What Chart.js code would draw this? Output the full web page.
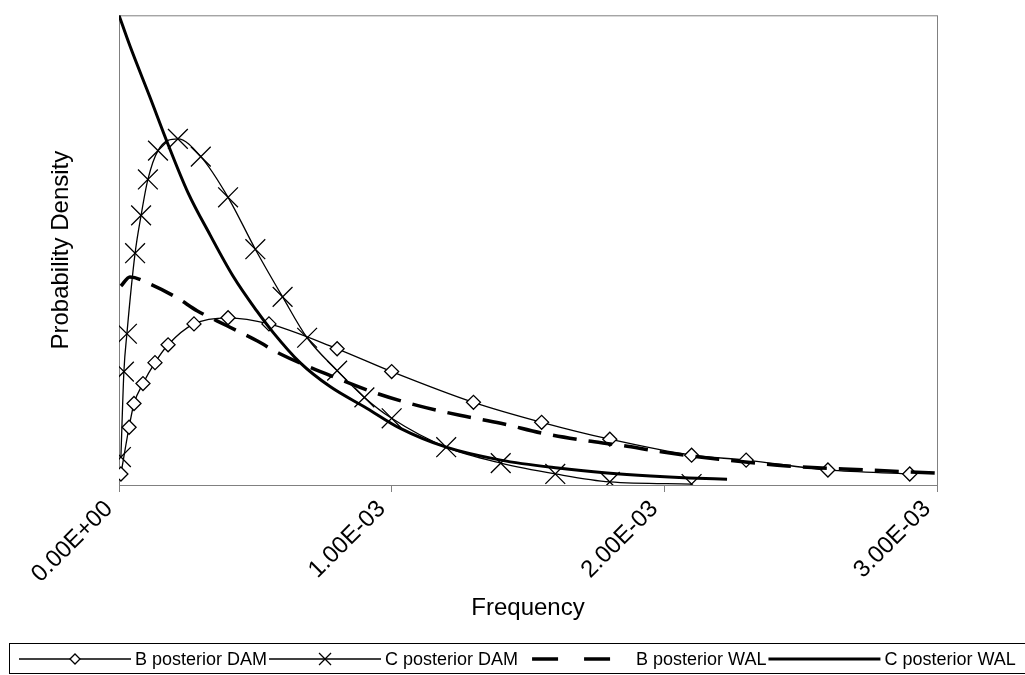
<!DOCTYPE html>
<html>
<head>
<meta charset="utf-8">
<title>Probability Density</title>
<script src="https://cdn.jsdelivr.net/npm/chart.js@4.4.1/dist/chart.umd.min.js"></script>
<style>
  html, body { margin: 0; padding: 0; background: #fff; }
  #wrap { width: 1025px; height: 675px; }
</style>
</head>
<body>
<div id="wrap"><canvas id="densityChart" width="1025" height="675"></canvas></div>
<script>
// B posterior DAM
const bDamFreq = [0.000007, 0.000037, 0.000055, 0.000088, 0.000132, 0.00018, 0.000275, 0.0004, 0.00055,
  0.0008, 0.001, 0.0013, 0.00155, 0.0018, 0.0021, 0.0023, 0.0026, 0.0029];
const bDamDensity = [47, 246, 347, 432, 521, 597, 686, 712, 686, 580, 483, 352, 267, 195, 127, 106, 64, 47];

// C posterior DAM
const cDamFreq = [0.000007, 0.000018, 0.000029, 0.000059, 0.000081, 0.000106, 0.000143, 0.000216, 0.0003,
  0.0004, 0.0005, 0.0006, 0.00069, 0.0008, 0.0009, 0.001, 0.0012, 0.0014, 0.0016, 0.0018, 0.0021];
const cDamDensity = [119, 483, 644, 987, 1148, 1301, 1424, 1474, 1398, 1225, 1004, 801, 627, 487, 373, 284,
  161, 93, 47, 13, 4];

// B posterior WAL
const bWalFreq = [0.000007, 0.00004, 0.000114, 0.000213, 0.000286, 0.000359, 0.000433, 0.000506, 0.00059,
  0.000821, 0.000946, 0.001093, 0.00125, 0.0014, 0.001555, 0.0017, 0.00184, 0.001995, 0.0022, 0.00245,
  0.00274, 0.003, 0.0032];
const bWalDensity = [847, 886, 856, 797, 742, 699, 657, 614, 559, 445, 390, 339, 297, 263, 220, 191, 169,
  140, 110, 81, 64, 51, 42];

// C posterior WAL
const cWalFreq = [0, 0.00004, 0.000114, 0.00018, 0.000253, 0.000334, 0.000418, 0.000506, 0.000565, 0.000664,
  0.000774, 0.00091, 0.00103, 0.0012, 0.0014, 0.00161, 0.00179, 0.00195, 0.00209, 0.00223];
const cWalDensity = [2000, 1870, 1650, 1450, 1245, 1065, 890, 740, 650, 521, 419, 326, 242, 161, 106, 72, 51,
  38, 30, 25];

const seriesLabels = ['B posterior DAM', 'C posterior DAM', 'B posterior WAL', 'C posterior WAL'];
const xTicks = [0, 0.001, 0.002, 0.003];

const FONT = '"Liberation Sans", Arial, sans-serif';
Chart.defaults.font.family = FONT;
Chart.defaults.color = '#000';

function toPoints(xs, ys) {
  return xs.map((x, i) => ({ x: x, y: ys[i] }));
}

// 1.00E-03 style labels
function sciLabel(v) {
  if (Math.abs(v) < 1e-12) return '0.00E+00';
  let exp = Math.floor(Math.log10(Math.abs(v)));
  let mant = v / Math.pow(10, exp);
  if (Math.abs(mant) >= 9.995) { mant /= 10; exp += 1; }
  const sign = exp < 0 ? '-' : '+';
  return mant.toFixed(2) + 'E' + sign + String(Math.abs(exp)).padStart(2, '0');
}

function drawDiamond(ctx, x, y, r) {
  ctx.beginPath();
  ctx.moveTo(x - r, y);
  ctx.lineTo(x, y - r);
  ctx.lineTo(x + r, y);
  ctx.lineTo(x, y + r);
  ctx.closePath();
  ctx.fillStyle = '#fff';
  ctx.fill();
  ctx.stroke();
}

function drawCross(ctx, x, y, r) {
  ctx.beginPath();
  ctx.moveTo(x - r, y - r);
  ctx.lineTo(x + r, y + r);
  ctx.moveTo(x - r, y + r);
  ctx.lineTo(x + r, y - r);
  ctx.stroke();
}

// grey frame around the plot area
const plotFrame = {
  id: 'plotFrame',
  beforeDatasetsDraw(chart) {
    const { ctx, chartArea: a } = chart;
    ctx.save();
    ctx.strokeStyle = '#808080';
    ctx.lineWidth = 1;
    ctx.strokeRect(a.left + 0.5, a.top + 0.5, a.right - a.left, a.bottom - a.top);
    ctx.restore();
  }
};

// legend row in a box along the bottom
const legendRow = {
  id: 'legendRow',
  afterDraw(chart) {
    const ctx = chart.ctx;
    const y = 659;
    const sampleLen = 112;
    let x = 19;
    ctx.save();
    ctx.strokeStyle = '#000';
    ctx.lineWidth = 1;
    ctx.strokeRect(9.5, 643.5, 1030, 30);
    ctx.font = '18px ' + FONT;
    ctx.textBaseline = 'middle';
    chart.data.datasets.forEach((ds, i) => {
      ctx.strokeStyle = '#000';
      ctx.lineWidth = ds.borderWidth;
      ctx.beginPath();
      if (ds.borderDash) {
        // two short dashes
        ctx.moveTo(x + 12, y); ctx.lineTo(x + 38, y);
        ctx.moveTo(x + 64, y); ctx.lineTo(x + 90, y);
      } else {
        ctx.moveTo(x, y); ctx.lineTo(x + sampleLen, y);
      }
      ctx.stroke();
      ctx.lineWidth = 1.3;
      if (ds.pointStyle === 'rectRot') drawDiamond(ctx, x + sampleLen / 2, y, 5);
      if (ds.pointStyle === 'crossRot') drawCross(ctx, x + sampleLen / 2, y, 6);
      ctx.fillStyle = '#000';
      const label = seriesLabels[i];
      ctx.fillText(label, x + sampleLen + 4, y + 1);
      x += sampleLen + 4 + ctx.measureText(label).width + 2;
    });
    ctx.restore();
  }
};

const ctx = document.getElementById('densityChart').getContext('2d');
const densityChart = new Chart(ctx, {
  type: 'line',
  data: {
    datasets: [
      {
        label: seriesLabels[0],
        data: toPoints(bDamFreq, bDamDensity),
        borderColor: '#000',
        borderWidth: 1.3,
        pointStyle: 'rectRot',
        pointRadius: 7,
        pointBorderWidth: 1.3,
        pointBackgroundColor: '#fff',
        pointBorderColor: '#000',
        cubicInterpolationMode: 'monotone',
        order: 4
      },
      {
        label: seriesLabels[1],
        data: toPoints(cDamFreq, cDamDensity),
        borderColor: '#000',
        borderWidth: 1.3,
        pointStyle: 'crossRot',
        pointRadius: 14,
        pointBorderWidth: 1.3,
        pointBorderColor: '#000',
        cubicInterpolationMode: 'monotone',
        order: 3
      },
      {
        label: seriesLabels[2],
        data: toPoints(bWalFreq, bWalDensity),
        borderColor: '#000',
        borderWidth: 3.5,
        borderDash: [24, 12],
        pointRadius: 0,
        cubicInterpolationMode: 'monotone',
        order: 2
      },
      {
        label: seriesLabels[3],
        data: toPoints(cWalFreq, cWalDensity),
        borderColor: '#000',
        borderWidth: 3,
        pointRadius: 0,
        cubicInterpolationMode: 'monotone',
        order: 1
      }
    ]
  },
  options: {
    responsive: false,
    animation: false,
    devicePixelRatio: 1,
    layout: { padding: { left: 0, right: 88, top: 13, bottom: 0 } },
    plugins: {
      legend: { display: false },
      tooltip: { enabled: false }
    },
    scales: {
      x: {
        type: 'linear',
        min: 0,
        max: 0.003,
        afterBuildTicks: (scale) => { scale.ticks = xTicks.map(v => ({ value: v })); },
        afterFit: (scale) => { scale.height = 190; },
        ticks: {
          minRotation: 45,
          maxRotation: 45,
          padding: 3,
          labelOffset: -10,
          font: { size: 24 },
          color: '#000',
          callback: (v) => sciLabel(v)
        },
        grid: {
          display: true,
          drawOnChartArea: false,
          drawTicks: true,
          tickLength: 7,
          color: '#808080'
        },
        border: { display: false },
        title: {
          display: true,
          text: 'Frequency',
          font: { size: 24 },
          color: '#000',
          padding: { top: 0, bottom: 52 }
        }
      },
      y: {
        min: 0,
        max: 2000,
        afterFit: (scale) => { scale.width = 119; },
        ticks: { display: false },
        grid: { display: false },
        border: { display: false },
        title: {
          display: true,
          text: 'Probability Density',
          font: { size: 24 },
          color: '#000',
          padding: { top: 47, bottom: 0 }
        }
      }
    }
  },
  plugins: [plotFrame, legendRow]
});
</script>
</body>
</html>
